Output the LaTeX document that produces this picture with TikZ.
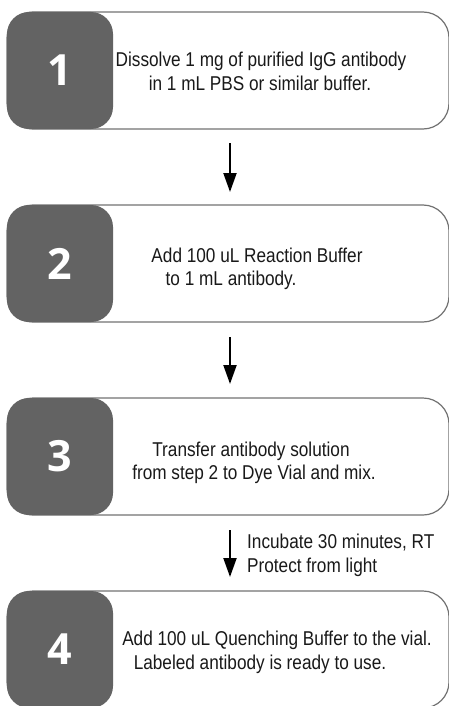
\documentclass[tikz,border=0pt]{standalone}
\usepackage{fontspec}
\setmainfont{Liberation Sans}[FakeStretch=0.86]
\newfontfamily\numfont{Open Sans}
\usetikzlibrary{arrows.meta}
\definecolor{darkbox}{HTML}{636363}
\definecolor{outline}{HTML}{727272}
\tikzset{
  stepbox/.style={draw=outline, line width=1.2pt, rounded corners=26pt,
    minimum width=442pt, minimum height=117pt, inner sep=0pt, fill=white},
  numbox/.style={fill=darkbox, rounded corners=22pt, minimum width=106pt,
    minimum height=117pt, inner sep=0pt, text=white,
    font=\numfont\bfseries\fontsize{43}{43}\selectfont},
  txt/.style={anchor=base, inner sep=0pt, font=\fontsize{20}{24}\selectfont, text=black!90},
  arr/.style={line width=2pt, -{Triangle[length=19pt,width=13pt]}}
}
\begin{document}
\begin{tikzpicture}[x=1pt,y=-1pt]
\useasboundingbox (0,0) rectangle (449,706);
% boxes
\node[stepbox] (b1) at (228,70.5) {};
\node[numbox] (n1) at (60,70.5) {1};
\node[stepbox] (b2) at (228,263.5) {};
\node[numbox] (n2) at (60,263.5) {2};
\node[stepbox] (b3) at (228,456.5) {};
\node[numbox] (n3) at (60,456.5) {3};
\node[stepbox] (b4) at (228,649.5) {};
\node[numbox] (n4) at (60,649.5) {4};
% texts
\node[txt] (t1a) at (261,67) {Dissolve 1 mg of purified IgG antibody};
\node[txt] (t1b) at (260,91) {in 1 mL PBS or similar buffer.};
\node[txt] (t2a) at (257,262) {Add 100 uL Reaction Buffer};
\node[txt] (t2b) at (231,285) {to 1 mL antibody.};
\node[txt] (t3a) at (251,456) {Transfer antibody solution};
\node[txt] (t3b) at (254,479) {from step 2 to Dye Vial and mix.};
\node[txt] (t4a) at (277,645) {Add 100 uL Quenching Buffer to the vial.};
\node[txt] (t4b) at (260,669) {Labeled antibody is ready to use.};
\node[txt, anchor=base west] (inc) at (247,548) {Incubate 30 minutes, RT};
\node[txt, anchor=base west] (prot) at (247,572) {Protect from light};
% arrows
\coordinate (a1s) at (230,143); \coordinate (a1e) at (230,192);
\coordinate (a2s) at (230,337); \coordinate (a2e) at (230,384);
\coordinate (a3s) at (230,530); \coordinate (a3e) at (230,577);
\draw[arr] (a1s) -- (a1e);
\draw[arr] (a2s) -- (a2e);
\draw[arr] (a3s) -- (a3e);
\end{tikzpicture}
\end{document}
